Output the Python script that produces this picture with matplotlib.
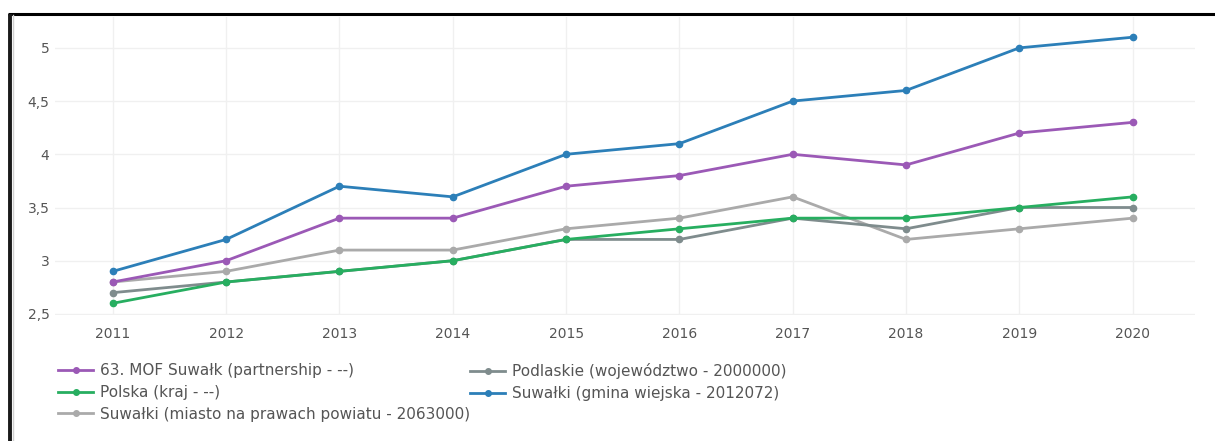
import matplotlib.pyplot as plt
from matplotlib.lines import Line2D
from matplotlib.ticker import FuncFormatter

years = [2011, 2012, 2013, 2014, 2015, 2016, 2017, 2018, 2019, 2020]

mof_suwalk = [2.8, 3.0, 3.4, 3.4, 3.7, 3.8, 4.0, 3.9, 4.2, 4.3]
podlaskie = [2.7, 2.8, 2.9, 3.0, 3.2, 3.2, 3.4, 3.3, 3.5, 3.5]
polska = [2.6, 2.8, 2.9, 3.0, 3.2, 3.3, 3.4, 3.4, 3.5, 3.6]
suwalki_gmina = [2.9, 3.2, 3.7, 3.6, 4.0, 4.1, 4.5, 4.6, 5.0, 5.1]
suwalki_miasto = [2.8, 2.9, 3.1, 3.1, 3.3, 3.4, 3.6, 3.2, 3.3, 3.4]

labels = [
    '63. MOF Suwałk (partnership - --)',
    'Podlaskie (województwo - 2000000)',
    'Polska (kraj - --)',
    'Suwałki (gmina wiejska - 2012072)',
    'Suwałki (miasto na prawach powiatu - 2063000)',
]
colors = ['#9b59b6', '#7f8c8d', '#27ae60', '#2c7fb8', '#aaaaaa']
series = [mof_suwalk, podlaskie, polska, suwalki_gmina, suwalki_miasto]

W, H = 1215, 441
fig = plt.figure(figsize=(W / 100, H / 100), dpi=100)
ax = fig.add_axes([55 / W, 1 - 315 / H, 1140 / W, 298 / H])

# gray ones underneath, blue on top
order = [4, 1, 2, 0, 3]
for z, i in enumerate(order):
    ax.plot(years, series[i], color=colors[i], marker='o', markersize=4.5,
            linewidth=2, zorder=3 + z)

ax.set_xlim(2010.49, 2020.55)
ax.set_ylim(2.49, 5.29)
ax.set_xticks(years)
ax.set_yticks([2.5, 3, 3.5, 4, 4.5, 5])
ax.yaxis.set_major_formatter(FuncFormatter(lambda v, p: f"{v:g}".replace('.', ',')))
ax.grid(True, color='#f0f0f0', linewidth=1)
for s in ax.spines.values():
    s.set_visible(False)
ax.tick_params(length=0, labelsize=10, colors='#555555')
ax.tick_params(axis='x', pad=9)
ax.tick_params(axis='y', pad=4)

# legend: two columns, placed as two legends so columns line up with the original
def make_legend(idx, x_px):
    hs = [Line2D([0], [0], color=colors[i], marker='o', markersize=4, linewidth=2) for i in idx]
    leg = fig.legend(hs, [labels[i] for i in idx], loc='upper left',
                     bbox_to_anchor=(x_px / W, 1 - 363 / H), frameon=False, fontsize=11,
                     handlelength=2.3, handletextpad=0.45, labelspacing=0.45,
                     borderpad=0, borderaxespad=0)
    for t in leg.get_texts():
        t.set_color('#555555')

make_legend([0, 2, 4], 58)
make_legend([1, 3], 470)

# frame lines from the screenshot
fig.add_artist(Line2D([8 / W, 1], [1 - 14 / H, 1 - 14 / H], color='black', linewidth=2.2,
                      solid_capstyle='butt'))
fig.add_artist(Line2D([9.5 / W, 9.5 / W], [0, 1 - 14 / H], color='#1a1a1a', linewidth=2.8,
                      solid_capstyle='butt'))
fig.add_artist(Line2D([12.5 / W, 12.5 / W], [0, 1 - 15 / H], color='#d0d0d0', linewidth=1))

fig.savefig('out.png', dpi=100)
